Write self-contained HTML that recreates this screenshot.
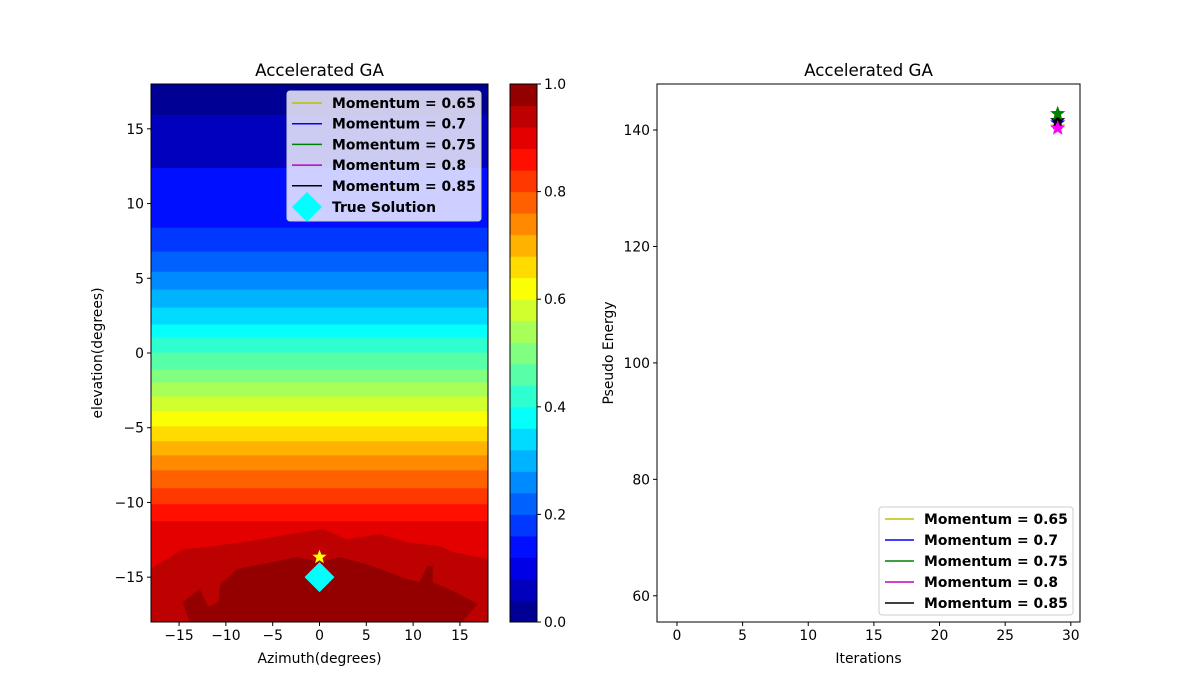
<!DOCTYPE html>
<html><head><meta charset="utf-8"><style>
body{margin:0;background:#fff}
svg{display:block;font-family:"DejaVu Sans","Liberation Sans",sans-serif}
</style></head><body>
<svg id="fig" width="1200" height="700" viewBox="0 0 1200 700"></svg>
<script>
// ---- data ----
const levelCount = 25;
const flatBoundaries = [15.93,12.39,12.39,8.38,6.78,5.44,4.24,3.04,1.90,1.04,0.03,-1.10,-1.97,-2.91,-3.91,-4.91,-5.91,-6.85,-7.85,-9.05,-10.12,-11.26];
const redProfileX = [-18.1,-14.6,-11.4,-7.4,-3.2,0.4,2.9,6.5,9.3,12.9,14.3,18.1];
const redProfileY = [-14.46,-13.13,-12.93,-12.59,-12.12,-11.79,-12.46,-12.12,-12.66,-12.93,-13.33,-13.79];
const darkPolyX = [-14.6,-12.8,-11.9,-10.8,-10.6,-8.8,-2.4,0.1,2.2,5.7,9.3,10.7,11.5,12.1,12.1,14.3,16.9,15.2,-13.9];
const darkPolyY = [-16.67,-15.78,-16.98,-16.67,-15.46,-14.46,-13.66,-13.99,-13.66,-14.26,-15.13,-15.33,-14.26,-14.26,-15.33,-15.93,-16.8,-18,-18];
const bestStar = [0,-13.66];
const trueSolution = [0,-15];
const leftXTicks = [-15,-10,-5,0,5,10,15];
const leftYTicks = [-15,-10,-5,0,5,10,15];
const cbTicks = [0.0,0.2,0.4,0.6,0.8,1.0];
const rightXTicks = [0,5,10,15,20,25,30];
const rightYTicks = [60,80,100,120,140];
const seriesLabels = ['Momentum = 0.65','Momentum = 0.7','Momentum = 0.75','Momentum = 0.8','Momentum = 0.85'];
const seriesColors = ['#bfbf00','#0000ff','#008000','#bf00bf','#000000'];
const finalIter = [29,29,29,29,29];
const finalEnergy = [140.5,141.2,142.8,140.3,141.6];

// ---- helpers ----
const NS='http://www.w3.org/2000/svg';
const svg=document.getElementById('fig');
function mk(tag,attrs,parent){const e=document.createElementNS(NS,tag);for(const k in attrs)e.setAttribute(k,attrs[k]);(parent||svg).appendChild(e);return e;}
function txt(s,x,y,attrs,parent){const t=mk('text',Object.assign({x:x,y:y,'font-size':13.9,fill:'#000'},attrs||{}),parent);t.textContent=s;return t;}
function jet(v){const c=x=>Math.max(0,Math.min(1,x));const r=c(1.5-Math.abs(4*v-3)),g=c(1.5-Math.abs(4*v-2)),b=c(1.5-Math.abs(4*v-1));return `rgb(${Math.round(r*255)},${Math.round(g*255)},${Math.round(b*255)})`;}
function star(cx,cy,r,fill,parent){let p=[];for(let i=0;i<10;i++){const a=-Math.PI/2+i*Math.PI/5;const rr=i%2?r*0.42:r;p.push((cx+rr*Math.cos(a)).toFixed(1)+','+(cy+rr*Math.sin(a)).toFixed(1));}return mk('polygon',{points:p.join(' '),fill:fill},parent);}

// ---- left axes ----
const L={x0:151,x1:488,y0:84,y1:622};
const lx=v=>L.x0+(v+18)/36*(L.x1-L.x0);
const ly=v=>L.y1-(v+18)/36*(L.y1-L.y0);
const left=mk('g',{});


const clip=mk('clipPath',{id:'lc'});mk('rect',{x:L.x0,y:L.y0,width:L.x1-L.x0,height:L.y1-L.y0},clip);
const bands=mk('g',{'clip-path':'url(#lc)'},left);
mk('rect',{x:L.x0,y:L.y0,width:L.x1-L.x0,height:L.y1-L.y0,fill:jet(0.5/levelCount)},bands);
flatBoundaries.forEach((b,i)=>{
  const r=mk('rect',{x:L.x0,y:ly(b),width:L.x1-L.x0,height:L.y1-ly(b),fill:jet((i+1.5)/levelCount)},bands);
  
  
});
let rp=redProfileX.map((x,i)=>lx(x)+','+ly(redProfileY[i]));
rp.push(lx(18.1)+','+L.y1,lx(-18.1)+','+L.y1);
const rpo=mk('polygon',{points:rp.join(' '),fill:jet((flatBoundaries.length+1.5)/levelCount)},bands);


const dp=mk('polygon',{points:darkPolyX.map((x,i)=>lx(x)+','+ly(darkPolyY[i])).join(' '),fill:jet((flatBoundaries.length+2.5)/levelCount)},bands);


// markers
const ts=mk('polygon',{points:[[0,-15],[15,0],[0,15],[-15,0]].map(p=>(lx(trueSolution[0])+p[0])+','+(ly(trueSolution[1])+p[1])).join(' '),fill:'#00ffff'},left);


const bs=star(lx(bestStar[0]),ly(bestStar[1]),7.5,'#ffff00',left);


mk('rect',{x:L.x0,y:L.y0,width:L.x1-L.x0,height:L.y1-L.y0,fill:'none',stroke:'#000','stroke-width':1},left);
leftXTicks.forEach(t=>{mk('line',{x1:lx(t),x2:lx(t),y1:L.y1,y2:L.y1+4,stroke:'#000'},left);txt(t<0?'−'+(-t):String(t),lx(t),L.y1+18,{'text-anchor':'middle'},left);});
leftYTicks.forEach(t=>{mk('line',{x1:L.x0-4,x2:L.x0,y1:ly(t),y2:ly(t),stroke:'#000'},left);txt(t<0?'−'+(-t):String(t),L.x0-7,ly(t)+5,{'text-anchor':'end'},left);});
const lt=txt('Accelerated GA',319.5,76,{'text-anchor':'middle','font-size':16.7},left);

const lxl=txt('Azimuth(degrees)',319.5,663,{'text-anchor':'middle'},left);

const lyl=txt('elevation(degrees)',0,0,{'text-anchor':'middle',transform:'translate(102,353) rotate(-90)'},left);


// legend left
const lg=mk('g',{},left);

mk('rect',{x:287,y:91,width:194,height:130,rx:3,fill:'rgba(255,255,255,0.8)',stroke:'#ccc'},lg);
seriesLabels.forEach((s,i)=>{const y=103+i*20.7;mk('line',{x1:292,x2:322,y1:y,y2:y,stroke:seriesColors[i],'stroke-width':1.5},lg);const t=txt(s,332,y+5,{'font-weight':'bold'},lg);});
mk('polygon',{points:'307,192 322,207 307,222 292,207',fill:'#00ffff'},lg);
txt('True Solution',332,212,{'font-weight':'bold'},lg);

// ---- colorbar ----
const C={x0:510,x1:537,y0:84,y1:622};
const cg=mk('g',{});

for(let i=0;i<levelCount;i++){const h=(C.y1-C.y0)/levelCount;mk('rect',{x:C.x0,y:C.y1-(i+1)*h,width:C.x1-C.x0,height:h+0.5,fill:jet((i+0.5)/levelCount)},cg);}
mk('rect',{x:C.x0,y:C.y0,width:C.x1-C.x0,height:C.y1-C.y0,fill:'none',stroke:'#000'},cg);
cbTicks.forEach(t=>{const y=C.y1-t*(C.y1-C.y0);mk('line',{x1:C.x1,x2:C.x1+4,y1:y,y2:y,stroke:'#000'},cg);txt(t.toFixed(1),C.x1+7,y+5,{},cg);});

// ---- right axes ----
const R={x0:657,x1:1080,y0:84,y1:622,xmin:-1.52,xmax:30.7,ymin:55.5,ymax:147.9};
const rx=v=>R.x0+(v-R.xmin)/(R.xmax-R.xmin)*(R.x1-R.x0);
const ry=v=>R.y1-(v-R.ymin)/(R.ymax-R.ymin)*(R.y1-R.y0);
const right=mk('g',{});

mk('rect',{x:R.x0,y:R.y0,width:R.x1-R.x0,height:R.y1-R.y0,fill:'none',stroke:'#000'},right);
rightXTicks.forEach(t=>{mk('line',{x1:rx(t),x2:rx(t),y1:R.y1,y2:R.y1+4,stroke:'#000'},right);txt(String(t),rx(t),R.y1+18,{'text-anchor':'middle'},right);});
rightYTicks.forEach(t=>{mk('line',{x1:R.x0-4,x2:R.x0,y1:ry(t),y2:ry(t),stroke:'#000'},right);txt(String(t),R.x0-7,ry(t)+5,{'text-anchor':'end'},right);});
[0,1,4,2,3].forEach(i=>{const s=star(rx(finalIter[i]),ry(finalEnergy[i]),8,seriesColors[i]==='#bf00bf'?'#ff00ff':seriesColors[i],right);});
const rt=txt('Accelerated GA',868.5,76,{'text-anchor':'middle','font-size':16.7},right);

const rxl=txt('Iterations',868.5,663,{'text-anchor':'middle'},right);

const ryl=txt('Pseudo Energy',0,0,{'text-anchor':'middle',transform:'translate(613,353) rotate(-90)'},right);

const rg=mk('g',{},right);

mk('rect',{x:879,y:507,width:194,height:108,rx:3,fill:'rgba(255,255,255,0.8)',stroke:'#ccc'},rg);
seriesLabels.forEach((s,i)=>{const y=519+i*21;mk('line',{x1:885,x2:914,y1:y,y2:y,stroke:seriesColors[i],'stroke-width':1.5},rg);const t=txt(s,924,y+5,{'font-weight':'bold'},rg);});
</script>
</body></html>
